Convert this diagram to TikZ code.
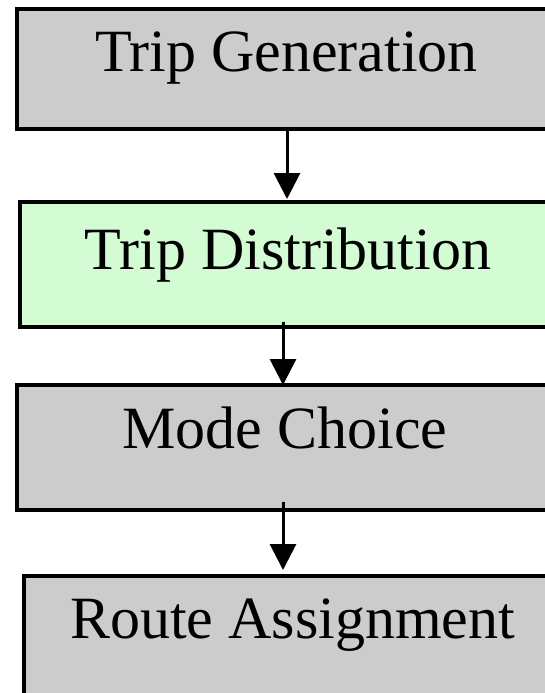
\documentclass[tikz,border=0pt]{standalone}
\usepackage{fontspec}
\setmainfont{Liberation Serif}
\usetikzlibrary{arrows.meta}
\definecolor{stepgray}{RGB}{204,204,204}
\definecolor{stepgreen}{RGB}{212,252,212}
\tikzset{
  stagebox/.style={draw=black, line width=4pt, rectangle, inner sep=0pt, outer sep=0pt,
    anchor=north west, font=\fontsize{60}{72}\selectfont, fill=stepgray},
  flow/.style={draw=black, line width=3pt,
    -{Triangle[width=26pt,length=26pt]}},
}
\begin{document}
\begin{tikzpicture}[x=1pt, y=-1pt]
  \useasboundingbox (0,0) rectangle (545,693);
  \clip (0,0) rectangle (545,693);
  \fill[white] (0,0) rectangle (545,693);

  % the four stages of the model, each box wider than the page on the right
  \node[stagebox, minimum width=539pt, minimum height=120pt,
        text height=62pt, text depth=58pt] (gen) at (17,9) {Trip Generation};
  \node[stagebox, fill=stepgreen, minimum width=536pt, minimum height=125pt,
        text height=67pt, text depth=58pt] (dist) at (20,202) {Trip Distribution};
  \node[stagebox, minimum width=537pt, minimum height=125pt,
        text height=63pt, text depth=62pt] (mode) at (16.5,385) {Mode Choice};
  \node[stagebox, minimum width=537pt, minimum height=124pt,
        text height=62pt, text depth=62pt] (route) at (24,576) {Route Assignment};

  % flow between the stages
  \draw[flow, shorten >=3pt] (gen.south -| 287,0) -- (dist.north -| 287,0);
  \draw[flow, shorten <=-5pt] (dist.south -| 283,0) -- (mode.north -| 283,0);
  \draw[flow, shorten <=-8pt, shorten >=6pt] (mode.south -| 283,0) -- (route.north -| 283,0);
\end{tikzpicture}
\end{document}
